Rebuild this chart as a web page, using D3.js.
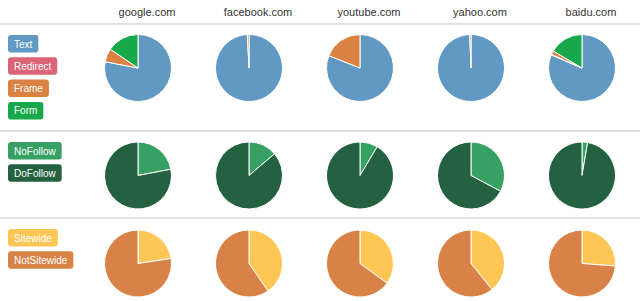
<!DOCTYPE html>
<html>
<head>
<meta charset="utf-8">
<script src="https://cdn.jsdelivr.net/npm/d3@7"></script>
<style>
  body { margin: 0; background: #fff; }
  svg { display: block; font-family: "Liberation Sans", Arial, sans-serif; }
</style>
</head>
<body>
<svg id="chart" width="640" height="301"></svg>
<script>
// sites across the top
const sites = ["google.com", "facebook.com", "youtube.com", "yahoo.com", "baidu.com"]

// link type row (percent)
const typeKeys = ["Text", "Redirect", "Frame", "Form"]
const typeValues = [
    [78, 0, 6.5, 15.5],
    [99.2, 0, 0.8, 0],
    [81, 0, 19, 0],
    [99.4, 0.6, 0, 0],
    [81.4, 0.3, 1.8, 16.5]
]

// follow row
const followKeys = ["NoFollow", "DoFollow"]
const followValues = [
    [22, 78],
    [13.8, 86.2],
    [8.6, 91.4],
    [32.8, 67.2],
    [2.7, 97.3]
]

// sitewide row
const sitewideKeys = ["Sitewide", "NotSitewide"]
const sitewideValues = [
    [22.6, 77.4],
    [40.4, 59.6],
    [35, 65],
    [39.2, 60.8],
    [26.2, 73.8]
]

let colors = {
    Text: "#6199c3", Redirect: "#dc6479", Frame: "#da8241", Form: "#17a84b",
    NoFollow: "#36a163", DoFollow: "#246141",
    Sitewide: "#fec654", NotSitewide: "#d98248"
}

let rows = [
    {keys: typeKeys, values: typeValues, cy: 68, lineY: 24},
    {keys: followKeys, values: followValues, cy: 175.5, lineY: 131},
    {keys: sitewideKeys, values: sitewideValues, cy: 263.5, lineY: 218}
]

let svg = d3.select('#chart')
let x = d3.scalePoint().domain(sites).range([138, 582])
let radius = 33.5

// headers
svg.append("g").selectAll("text")
    .data(sites)
    .enter()
    .append("text")
    .attr("x", function (d) { return x(d) + 9 })
    .attr("y", 16)
    .attr("text-anchor", "middle")
    .style("font-size", "11px")
    .style("fill", "#333")
    .text(function (d) { return d })

let pie = d3.pie().sort(null)
let arc = d3.arc().innerRadius(0).outerRadius(radius)

rows.forEach(function (row) {
    // separator line
    svg.append("rect")
        .attr("x", 0).attr("y", row.lineY - 1)
        .attr("width", 640).attr("height", 2)
        .attr("fill", "#dfdfe3")

    // legend buttons
    let legend = svg.append("g")
        .selectAll("g")
        .data(row.keys)
        .enter()
        .append("g")
        .attr("transform", function (d, i) {
            return `translate(8,${row.lineY + 11 + i * 22.3})`
        })

    let labels = legend.append("text")
        .attr("x", 6)
        .attr("y", 12.5)
        .style("font-size", "10px")
        .style("fill", "#fff")
        .text(function (d) { return d })

    legend.insert("rect", "text")
        .attr("rx", 3)
        .attr("height", 17.5)
        .attr("width", function (d, i) {
            return labels.nodes()[i].getComputedTextLength() + 12
        })
        .attr("fill", function (d) { return colors[d] })

    // pies
    let pies = svg.append("g")
        .selectAll("g")
        .data(row.values)
        .enter()
        .append("g")
        .attr("transform", function (d, i) {
            return `translate(${x(sites[i])},${row.cy})`
        })

    pies.selectAll("path")
        .data(function (d) { return pie(d) })
        .enter()
        .append("path")
        .attr("d", arc)
        .attr("fill", function (d, i) { return colors[row.keys[i]] })
        .attr("stroke", function (d) { return d.value > 0 ? "#fff" : "none" })
        .attr("stroke-width", 1)
})
</script>
</body>
</html>
